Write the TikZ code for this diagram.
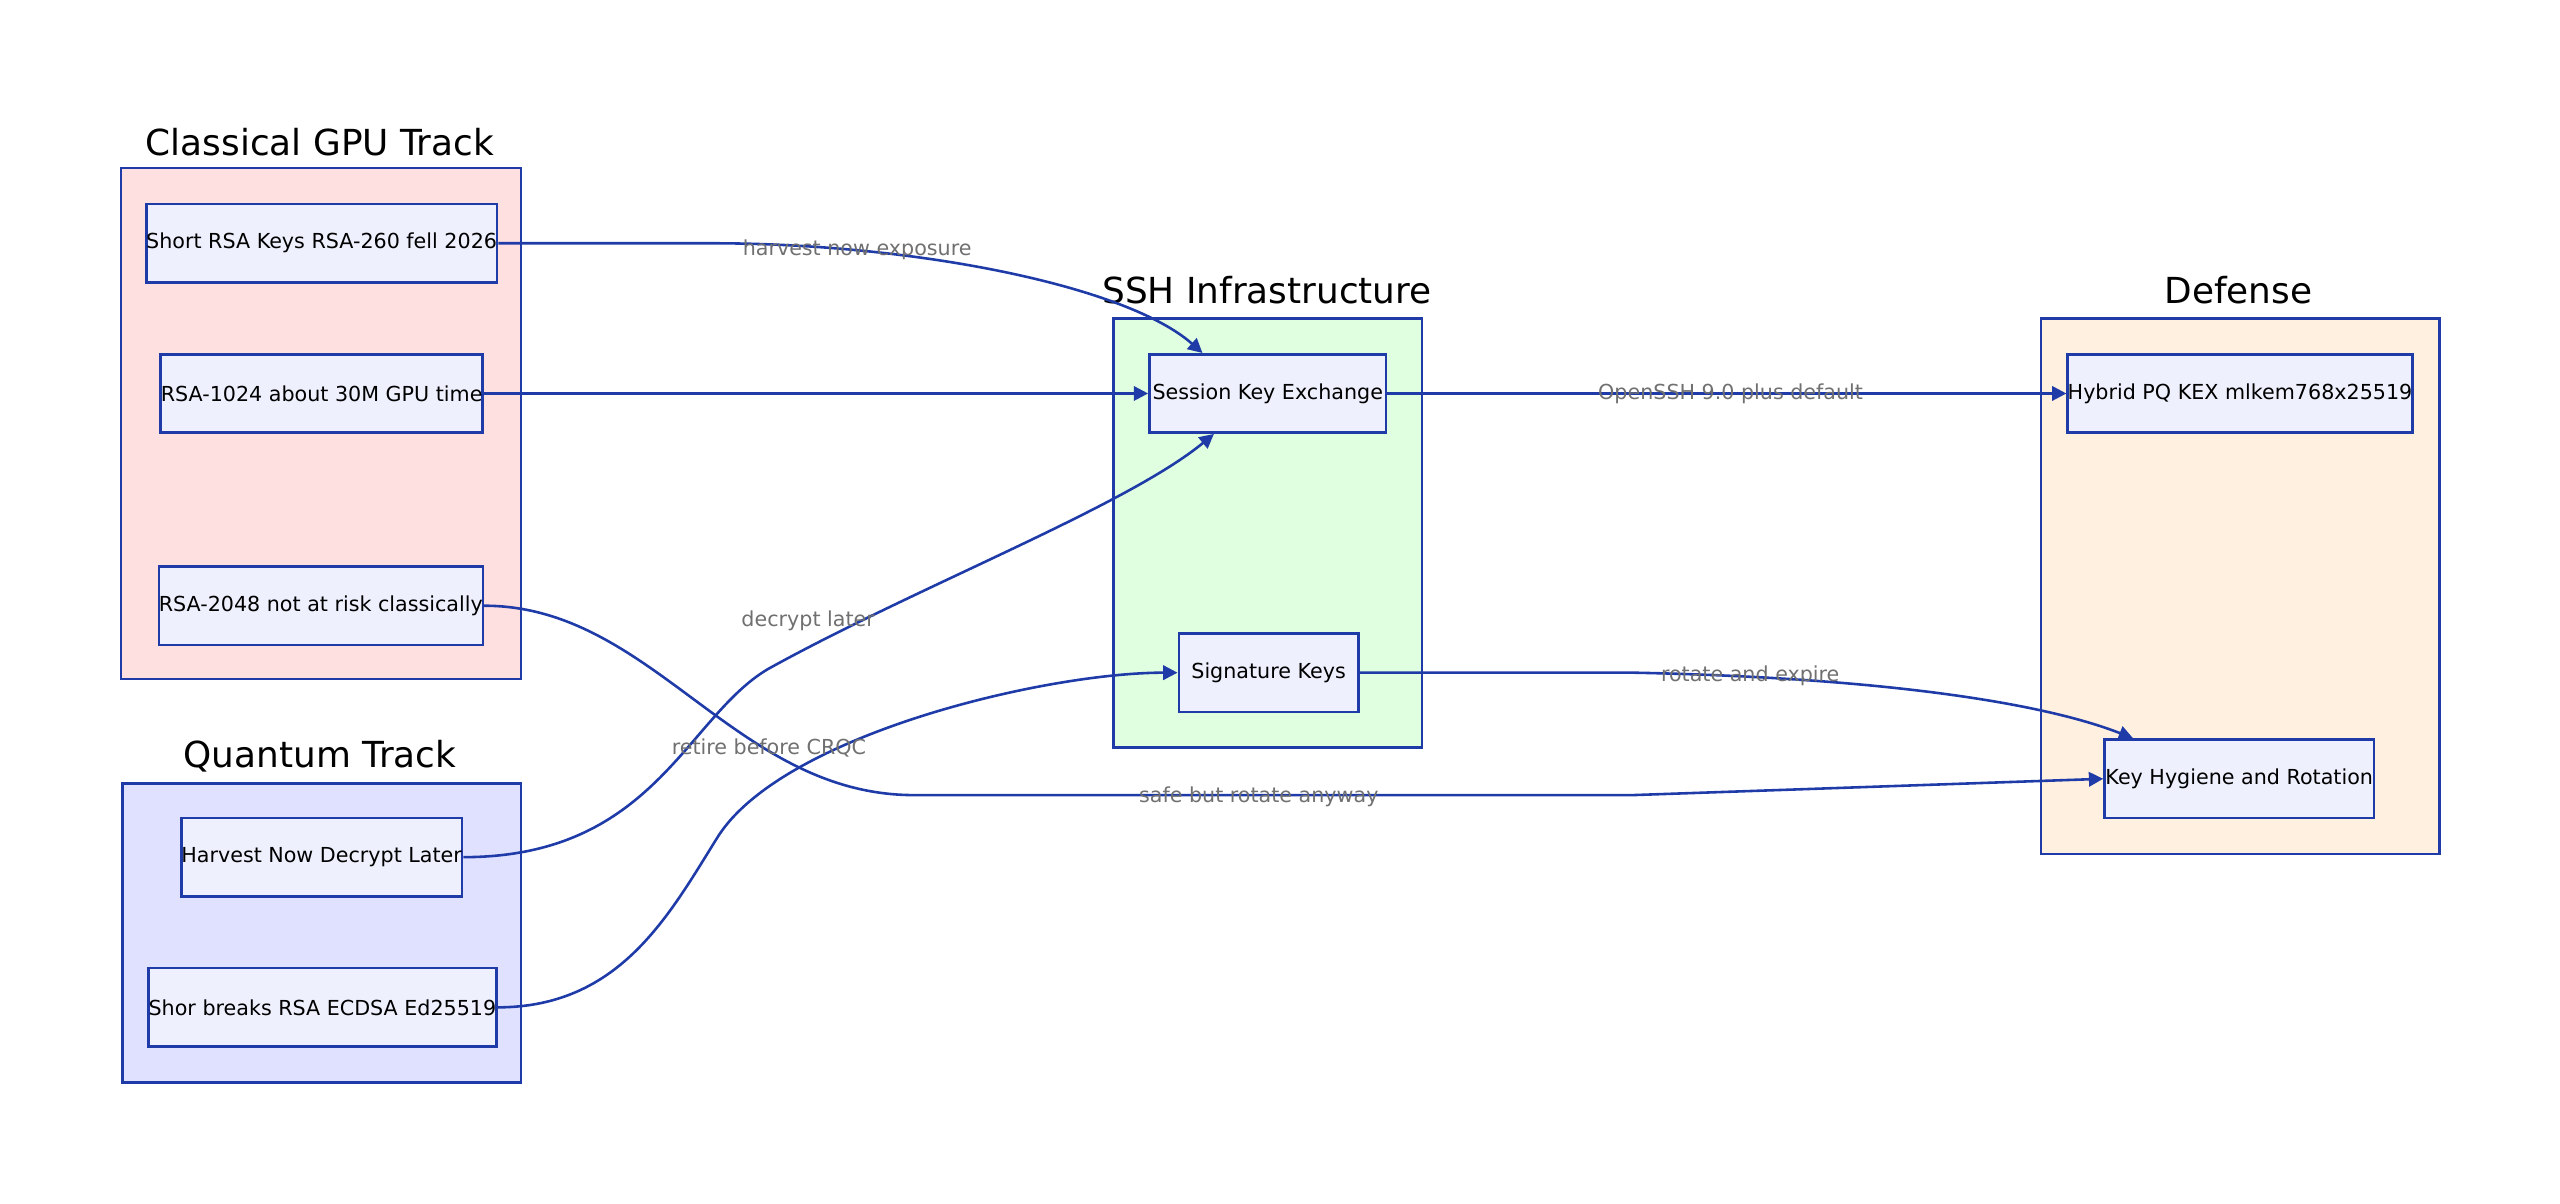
\documentclass[tikz,border=0pt]{standalone}
\usepackage{fontspec}
\setmainfont{DejaVu Sans}
\usetikzlibrary{arrows.meta}
\definecolor{bd}{HTML}{1F3BA8}
\definecolor{nf}{HTML}{EEF0FD}
\definecolor{lg}{HTML}{707070}
\begin{document}
\begin{tikzpicture}[x=0.02cm,y=-0.02cm,
 cl/.style={draw=bd,line width=0.9pt},
 nd/.style={draw=bd,fill=nf,line width=0.9pt,minimum height=0.96cm,inner sep=0pt,font=\fontsize{7.2}{9}\selectfont},
 tt/.style={font=\fontsize{12.5}{15}\selectfont},
 ed/.style={draw=bd,line width=0.9pt,-{Triangle[length=5pt,width=5pt]}},
 lb/.style={text=lg,font=\fontsize{7.2}{9}\selectfont}]
\useasboundingbox (0,0) rectangle (1568,737);
\filldraw[cl,fill=red!12] (74,103) rectangle (319,416);
\filldraw[cl,fill=blue!12] (75,480) rectangle (319,663);
\filldraw[cl,fill=green!12] (682,195) rectangle (871,458);
\filldraw[cl,fill=orange!12] (1250,195) rectangle (1494,523);
\node[tt] at (196,87) {Classical GPU Track};
\node[tt] at (196,463) {Quantum Track};
\node[tt] at (776,178) {SSH Infrastructure};
\node[tt] at (1371,178) {Defense};
\node[nd,minimum width=4.04cm] (A) at (197,149) {Short RSA Keys RSA-260 fell 2026};
\node[nd,minimum width=3.76cm] (B) at (197,241) {RSA-1024 about 30M GPU time};
\node[nd,minimum width=3.82cm] (C) at (196.5,371) {RSA-2048 not at risk classically};
\node[nd,minimum width=3.44cm] (D) at (197,525) {Harvest Now Decrypt Later};
\node[nd,minimum width=4.02cm] (E) at (197.5,617) {Shor breaks RSA ECDSA Ed25519};
\node[nd,minimum width=2.9cm] (F) at (776.5,241) {Session Key Exchange};
\node[nd,minimum width=2.2cm] (G) at (777,412) {Signature Keys};
\node[nd,minimum width=4.0cm] (H) at (1372,241) {Hybrid PQ KEX mlkem768x25519};
\node[nd,minimum width=3.3cm] (I) at (1371.5,477) {Key Hygiene and Rotation};
\draw[ed] (A.east) -- (436,149) .. controls (560,149) and (690,175) .. ([xshift=-0.8cm]F.north);
\draw[ed] (B.east) -- (F.west);
\draw[ed] (D.east) .. controls (400,525) and (420,440) .. (470,410) .. controls (560,360) and (690,310) .. ([xshift=-0.66cm]F.south);
\draw[ed] (E.east) .. controls (380,617) and (410,560) .. (440,512) .. controls (480,450) and (640,412) .. (G.west);
\draw[ed] (C.east) .. controls (400,371) and (450,487) .. (560,487) -- (1000,487) -- (I.west);
\draw[ed] (F.east) -- (H.west);
\draw[ed] (G.east) -- (1000,412) .. controls (1150,415) and (1250,430) .. ([xshift=-1.3cm]I.north);
\node[lb] at (525,153) {harvest now exposure};
\node[lb] at (495,380) {decrypt later};
\node[lb] at (471,458) {retire before CRQC};
\node[lb] at (771,488) {safe but rotate anyway};
\node[lb] at (1060,241) {OpenSSH 9.0 plus default};
\node[lb] at (1072,414) {rotate and expire};
\end{tikzpicture}
\end{document}
